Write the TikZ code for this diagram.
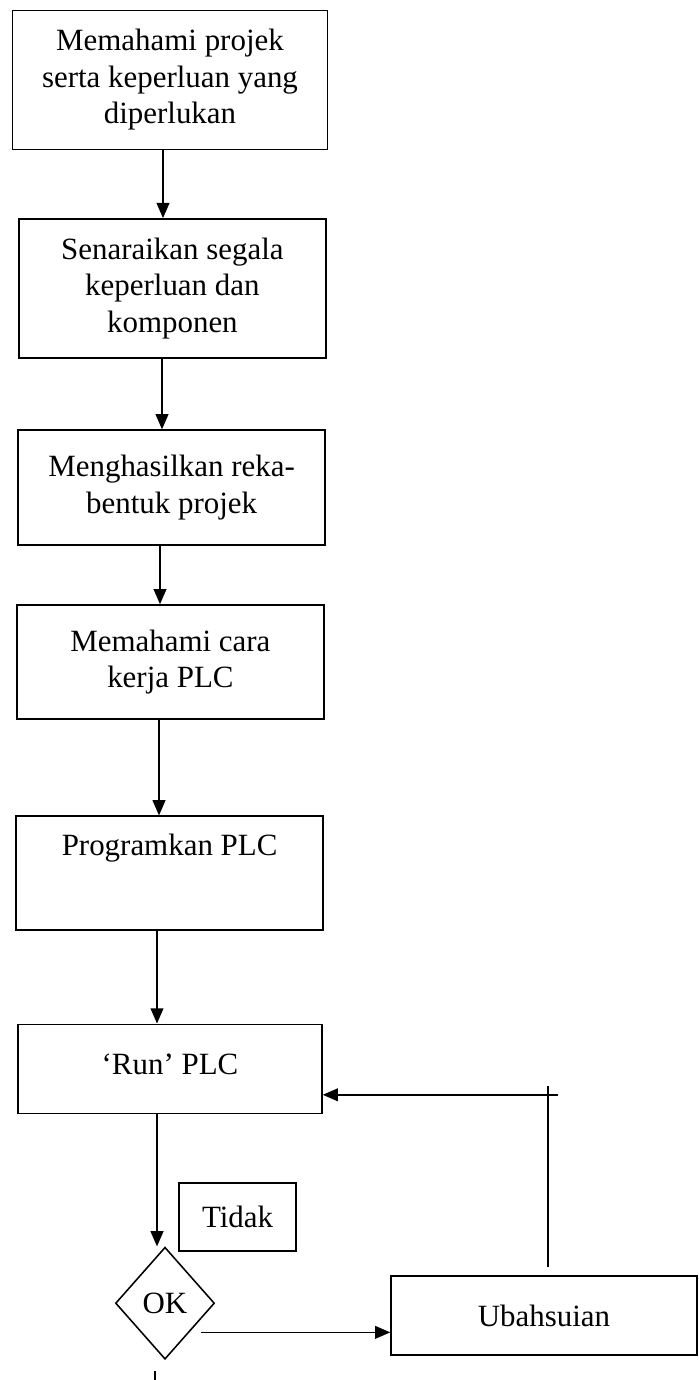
\documentclass[tikz,border=0pt]{standalone}
\usepackage{fontspec}
\setmainfont{Liberation Serif}
\usetikzlibrary{arrows.meta,shapes.geometric}

\begin{document}
\begin{tikzpicture}[line width=1.1pt,
    every node/.style={draw,line width=1.1pt,align=center,inner sep=0pt,
      font=\fontsize{22}{26}\selectfont},
    stepbox/.style={minimum width=7.675cm},
    arr/.style={-{Triangle[length=0.38cm,width=0.32cm]}}]

    \useasboundingbox (0,0) rectangle (17.45,-34.5);

    %==================== Main steps ====================
    \node[stepbox,minimum width=7.875cm,minimum height=3.475cm] (b1) at (4.25,-2.0)
      {Memahami projek\\serta keperluan yang\\diperlukan};
    \node[stepbox,minimum height=3.475cm] (b2) at (4.31,-7.21)
      {Senaraikan segala\\keperluan dan\\komponen};
    \node[stepbox,minimum height=2.875cm] (b3) at (4.29,-12.19)
      {Menghasilkan reka-\\bentuk projek};
    \node[stepbox,minimum height=2.85cm] (b4) at (4.26,-16.55)
      {Memahami cara\\kerja PLC};
    % text sits in the upper part of these two
    \node[stepbox,text height=0.975cm,text depth=1.875cm] (b5) at (4.24,-21.83)
      {Programkan PLC};
    \node[stepbox,minimum width=7.6cm,text height=1.25cm,text depth=0.975cm] (b6) at (4.25,-26.72)
      {`Run' PLC};

    %==================== Decision ====================
    \node[minimum width=2.925cm,minimum height=1.7cm] (tidak) at (5.94,-30.43) {Tidak};
    \node[diamond,minimum width=2.475cm,minimum height=2.8cm] (ok) at (4.125,-32.58) {OK};
    \node[minimum width=7.65cm,minimum height=1.975cm] (ub) at (13.6,-32.89) {Ubahsuian};

    \coordinate (bend) at (13.7,-27.37);
    \coordinate (exit) at (3.875,-34.5);

    % Downward arrows
    \foreach \a/\b/\x in {b1/b2/4.075,b2/b3/4.05,b3/b4/4.0,b4/b5/3.975,b5/b6/3.925,b6/ok/3.925} {
      \draw[arr] (\a.south -| \x,0) -- (\b.north -| \x,0);
    }

    % OK to Ubahsuian
    \draw[arr,shorten <=0.3cm] (ok.-50) -- (ok.-50 -| ub.west);

    % Back to Run PLC
    \draw ([yshift=0.2cm]ub.north -| bend) -- ([yshift=0.225cm]bend);
    \draw[arr] ([xshift=0.25cm]bend) -- (bend -| b6.east);

    % Out of OK
    \draw ([yshift=-0.275cm]ok.south -| exit) -- (exit);

  \end{tikzpicture}
\end{document}
